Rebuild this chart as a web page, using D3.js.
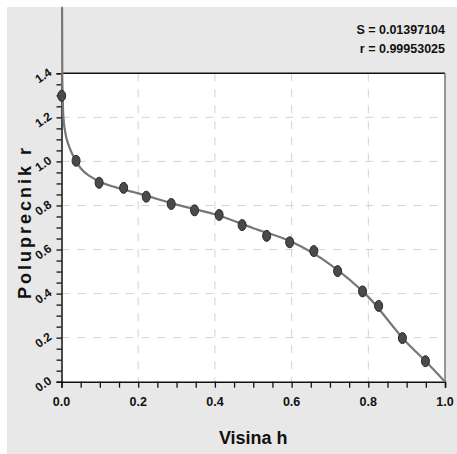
<!DOCTYPE html>
<html><head><meta charset="utf-8">
<script src="https://cdn.jsdelivr.net/npm/d3@7"></script>
<style>
html,body{margin:0;padding:0;background:#fff;}
svg{display:block;}
text{font-family:"Liberation Sans Narrow","Arial Narrow","Liberation Sans",Arial,sans-serif;font-weight:bold;fill:#111;}
</style></head>
<body>
<svg id="c" width="457" height="454"></svg>
<script>
// measured points
const pointH = [0.0005,0.038,0.098,0.162,0.221,0.286,0.347,0.411,0.471,0.535,0.595,0.658,0.72,0.785,0.827,0.889,0.949];
const pointR = [1.298,1.003,0.903,0.880,0.840,0.807,0.778,0.757,0.711,0.662,0.633,0.593,0.502,0.410,0.344,0.198,0.093];
// fitted curve samples
const curveH = [0.0015,0.002,0.003,0.005,0.01,0.02,0.035,0.05,0.075,0.1,0.15,0.2,0.3,0.4,0.5,0.6,0.7,0.8,0.9,0.95,1.0];
const curveR = [1.70,1.40,1.30,1.20,1.13,1.067,1.01,0.969,0.932,0.908,0.878,0.855,0.804,0.760,0.697,0.635,0.533,0.385,0.178,0.092,0.0];
const xTicks = [0.0,0.2,0.4,0.6,0.8,1.0];
const yTicks = [0.0,0.2,0.4,0.6,0.8,1.0,1.2,1.4];
const xLabel = "Visina h";
const yLabel = "Poluprecnik r";
const statLines = ["S = 0.01397104","r = 0.99953025"];

const svg = d3.select("#c");
const L=61.5, R=445, T=73.3, B=381.7;
const x = d3.scaleLinear().domain([0,1]).range([L,R]);
const y = d3.scaleLinear().domain([0,1.4]).range([B,T]);

svg.append("rect").attr("x",7).attr("y",7).attr("width",450).attr("height",447).attr("fill","#e8e8e8");
svg.append("rect").attr("x",L).attr("y",T).attr("width",R-L).attr("height",B-T).attr("fill","#fff");

// grid
const grid = svg.append("g").attr("stroke","#d4d4d4").attr("stroke-width",1).attr("stroke-dasharray","8,8");
xTicks.filter(v=>v>0&&v<1).forEach(v=>grid.append("line").attr("x1",x(v)).attr("x2",x(v)).attr("y1",T).attr("y2",B));
yTicks.filter(v=>v>0&&v<1.4).forEach(v=>grid.append("line").attr("x1",L).attr("x2",R).attr("y1",y(v)).attr("y2",y(v)));

// borders
svg.append("line").attr("x1",L).attr("x2",R).attr("y1",T).attr("y2",T).attr("stroke","#111").attr("stroke-width",1.5);
svg.append("line").attr("x1",R).attr("x2",R).attr("y1",T).attr("y2",B).attr("stroke","#777").attr("stroke-width",1.5);

// axes
const xAxis = d3.axisBottom(x).tickValues(d3.range(0,1.0001,0.05)).tickSize(6).tickFormat("");
const gx = svg.append("g").attr("transform",`translate(0,${B})`).call(xAxis);
gx.select(".domain").attr("stroke","#111").attr("stroke-width",1.5);
gx.selectAll(".tick line").attr("stroke","#111").attr("stroke-width",1.3);
const gxl = svg.append("g");
xTicks.forEach(v=>gxl.append("text").attr("x",x(v)).attr("y",406).attr("text-anchor","middle").attr("font-size",12.5).text(v.toFixed(1)));

const yAxis = d3.axisLeft(y).tickValues(d3.range(0,1.4001,0.05)).tickSize(5).tickFormat("");
const gy = svg.append("g").attr("transform",`translate(${L},0)`).call(yAxis);
gy.select(".domain").attr("stroke","#111").attr("stroke-width",1.5);
gy.selectAll(".tick line").attr("stroke","#111").attr("stroke-width",1.3);
yTicks.forEach(v=>{
  svg.append("text").attr("transform",`translate(${L-9},${y(v)+1}) rotate(-35)`)
    .attr("text-anchor","end").attr("font-size",12).text(v.toFixed(1));
});

// curve
const line = d3.line().x((d,i)=>x(curveH[i])).y((d,i)=>y(curveR[i])).curve(d3.curveMonotoneX);
svg.append("path").attr("d",line(curveR)).attr("fill","none").attr("stroke","#777").attr("stroke-width",2.2);
svg.append("line").attr("x1",x(curveH[0])).attr("x2",x(0)+1).attr("y1",y(curveR[0])).attr("y2",7).attr("stroke","#777").attr("stroke-width",2.2);

// points
svg.append("g").selectAll("ellipse").data(pointR).join("ellipse")
  .attr("cx",(d,i)=>x(pointH[i])).attr("cy",d=>y(d)).attr("rx",4).attr("ry",5.5)
  .attr("fill","#4a4a4a").attr("stroke","#2a2a2a").attr("stroke-width",1);

// labels
svg.append("text").attr("x",(L+R)/2).attr("y",444).attr("text-anchor","middle").attr("font-size",18).text(xLabel);
svg.append("text").attr("transform",`translate(31,222) rotate(-90)`).attr("text-anchor","middle")
  .attr("font-size",18).attr("letter-spacing",3).text(yLabel);
statLines.forEach((s,i)=>svg.append("text").attr("x",445).attr("y",34+i*19).attr("text-anchor","end").attr("font-size",12.5).text(s));
</script>
</body></html>
